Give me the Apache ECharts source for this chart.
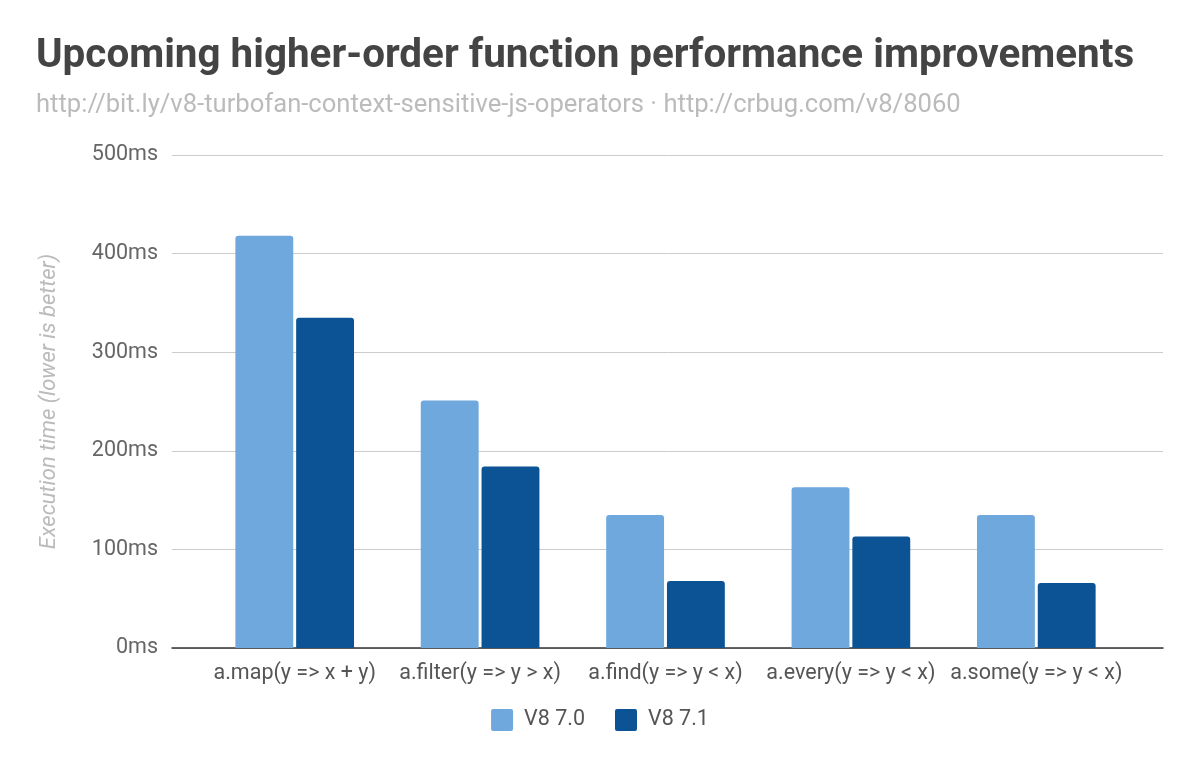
<!DOCTYPE html>
<html><head><meta charset="utf-8">
<script src="https://cdn.jsdelivr.net/npm/echarts@6/dist/echarts.min.js"></script>
<style>html,body{margin:0;padding:0;background:#fff}#c{width:1200px;height:767px}</style>
</head><body><div id="c"></div>
<script>
const categories = ['a.map(y => x + y)', 'a.filter(y => y > x)', 'a.find(y => y < x)', 'a.every(y => y < x)', 'a.some(y => y < x)'];
const v70 = [418, 251, 135, 163, 135];
const v71 = [335, 184, 68, 113, 66];
const yTicks = [0, 100, 200, 300, 400, 500];

const font = 'Roboto';
const chart = echarts.init(document.getElementById('c'));
chart.setOption({
  backgroundColor: '#fff',
  animation: false,
  title: {
    text: 'Upcoming higher-order function performance improvements',
    subtext: 'http://bit.ly/v8-turbofan-context-sensitive-js-operators · http://crbug.com/v8/8060',
    left: 31, top: 32,
    itemGap: 16,
    textStyle: {fontFamily: font, fontWeight: 'bold', fontSize: 40.4, color: '#444'},
    subtextStyle: {fontFamily: font, fontSize: 25.6, color: '#bbb'}
  },
  legend: {
    bottom: 31, left: 'center',
    itemWidth: 22, itemHeight: 22, itemGap: 30,
    icon: 'path://M2,0 L20,0 Q22,0 22,2 L22,20 Q22,22 20,22 L2,22 Q0,22 0,20 L0,2 Q0,0 2,0 Z',
    textStyle: {fontFamily: font, fontSize: 21.5, color: '#555', padding: [0, 0, 0, 6]},
    data: ['V8 7.0', 'V8 7.1']
  },
  grid: [
    {left: 172, right: 37, top: 155, bottom: 119},
    {left: 202, right: 71, top: 155, bottom: 119}
  ],
  xAxis: [
    {type: 'value', gridIndex: 0, min: 0, max: 1,
     axisLine: {show: true, onZero: false, lineStyle: {color: '#333', width: 1.5}},
     axisTick: {show: false}, axisLabel: {show: false}, splitLine: {show: false}},
    {type: 'category', gridIndex: 1, data: categories,
     axisLine: {show: false},
     axisTick: {show: false},
     axisLabel: {fontFamily: font, fontSize: 21.5, color: '#555', margin: 15, interval: 0}}
  ],
  yAxis: [
    {type: 'value', gridIndex: 0, min: yTicks[0], max: yTicks[yTicks.length - 1], interval: 100,
     name: 'Execution time (lower is better)',
     nameLocation: 'middle', nameGap: 112,
     nameTextStyle: {fontFamily: font, fontStyle: 'italic', fontSize: 22, color: '#bbb'},
     axisLabel: {fontFamily: font, fontSize: 21.5, color: '#666', margin: 14, formatter: v => v + 'ms'},
     splitLine: {lineStyle: {color: '#ccc', width: 1}},
     axisLine: {show: false}, axisTick: {show: false}},
    {type: 'value', gridIndex: 1, min: yTicks[0], max: yTicks[yTicks.length - 1], interval: 100,
     show: false, splitLine: {show: false}}
  ],
  series: [
    {name: 'V8 7.0', type: 'bar', xAxisIndex: 1, yAxisIndex: 1, data: v70, barGap: '5%', barCategoryGap: '36%',
     itemStyle: {color: '#6fa8dc', borderRadius: [3, 3, 0, 0]}},
    {name: 'V8 7.1', type: 'bar', xAxisIndex: 1, yAxisIndex: 1, data: v71,
     itemStyle: {color: '#0b5394', borderRadius: [3, 3, 0, 0]}}
  ]
});
</script></body></html>
